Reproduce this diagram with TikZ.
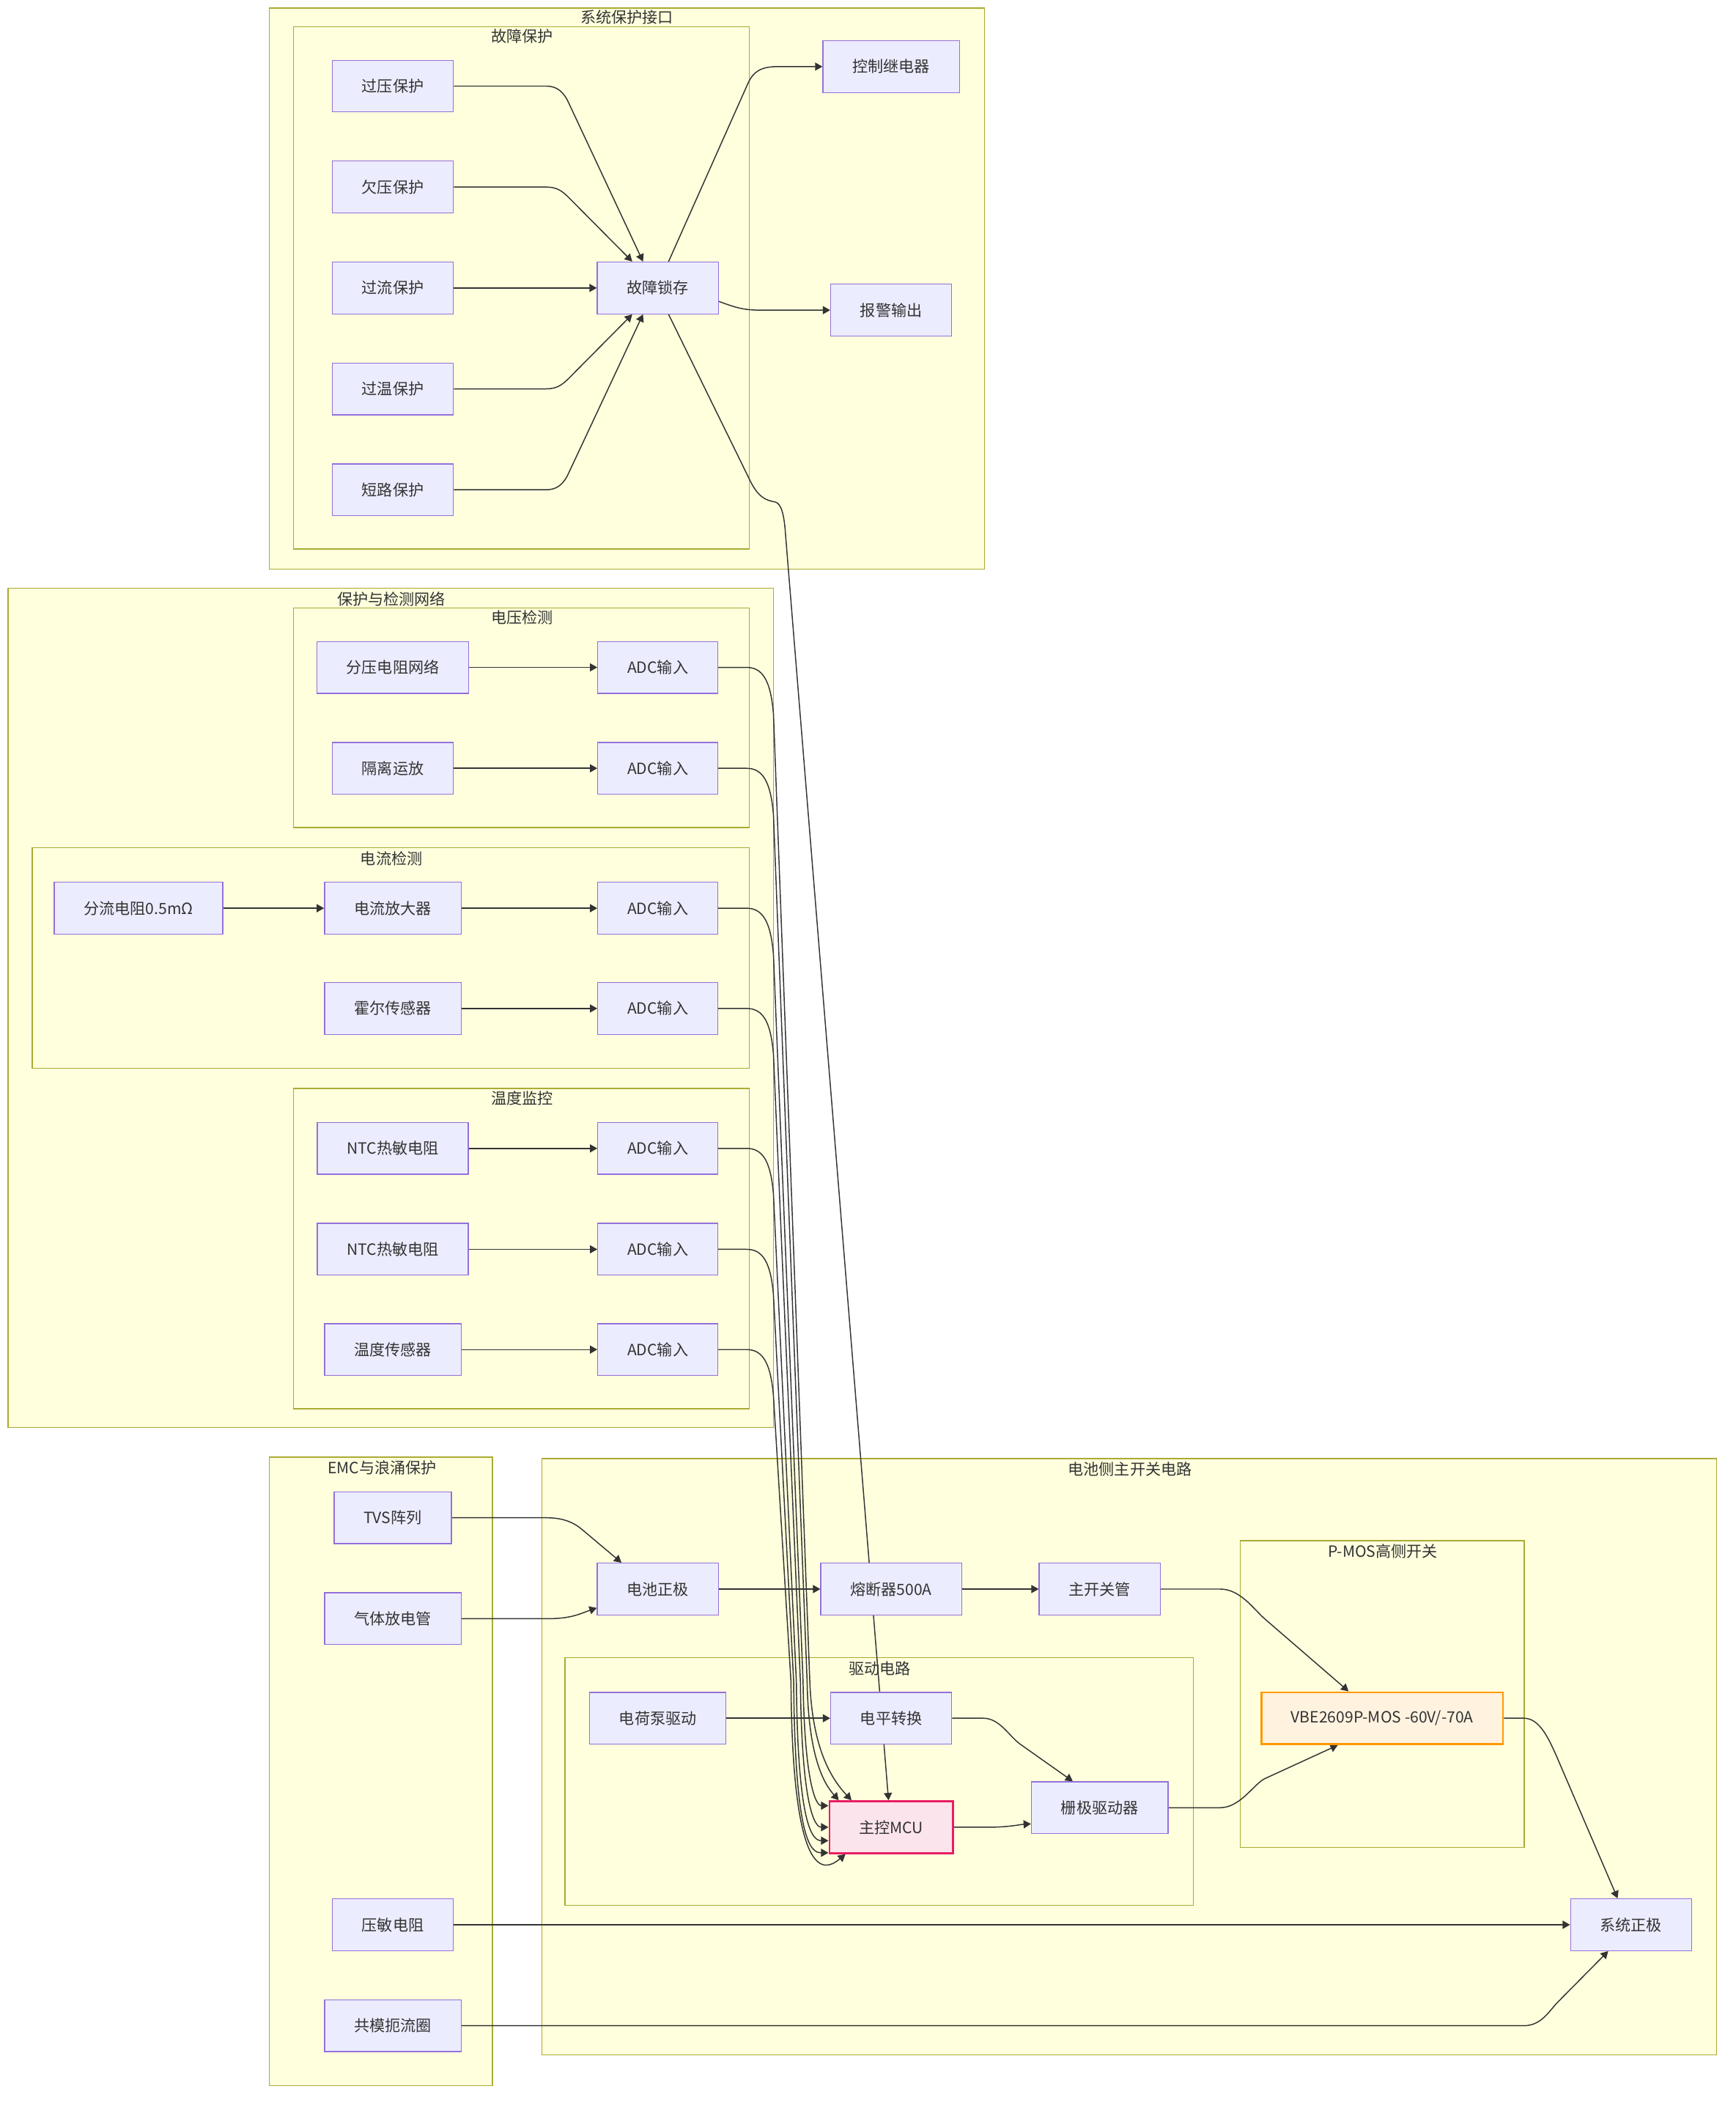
\documentclass[tikz,border=0pt]{standalone}
\usepackage{fontspec}
\setmainfont{Noto Sans CJK SC}
\usepackage{xcolor}
\usetikzlibrary{arrows.meta}
\definecolor{nodefill}{HTML}{ECECFF}
\definecolor{nodeline}{HTML}{9370DB}
\definecolor{clfill}{HTML}{FFFFDE}
\definecolor{clline}{HTML}{AAAA33}
\definecolor{edgecol}{HTML}{333333}
\definecolor{txt}{HTML}{333333}
\definecolor{mcufill}{HTML}{FCE4EC}
\definecolor{mculine}{HTML}{E91E63}
\definecolor{mosfill}{HTML}{FFF3E0}
\definecolor{mosline}{HTML}{FF9800}
\pgfdeclarelayer{bg}
\pgfdeclarelayer{edges}
\pgfsetlayers{bg,edges,main}

\begin{document}
\begin{tikzpicture}[x=1pt,y=-1pt,
  box/.style={draw=nodeline,fill=nodefill,line width=0.7pt,minimum height=38.5pt,inner xsep=22pt,inner ysep=0pt,text=txt,font=\fontsize{11.5}{13}\selectfont},
  mcubox/.style={box,draw=mculine,fill=mcufill,line width=1.5pt},
  mosbox/.style={box,draw=mosline,fill=mosfill,line width=1.5pt},
  cluster/.style={draw=clline,fill=clfill,line width=0.7pt},
  cltitle/.style={text=txt,font=\fontsize{11.5}{13}\selectfont,inner sep=0pt},
  edge/.style={draw=edgecol,line width=0.8pt,-{Triangle[length=5.5pt,width=6pt]}}]
\useasboundingbox (0,0) rectangle (1290,1566.7);

\node[box] (ovp) at (292,64) {过压保护};
\node[box] (uvp) at (292,139) {欠压保护};
\node[box] (ocp) at (292,214) {过流保护};
\node[box] (otp) at (292,289) {过温保护};
\node[box] (scp) at (292,364) {短路保护};
\node[box] (latch) at (489,214) {故障锁存};
\node[box] (relay) at (662.5,49.5) {控制继电器};
\node[box] (alarm) at (662.5,230.5) {报警输出};

\node[box] (divnet) at (292,496) {分压电阻网络};
\node[box] (adcva) at (489,496) {ADC输入};
\node[box] (isoamp) at (292,571) {隔离运放};
\node[box] (adcvb) at (489,571) {ADC输入};
\node[box] (shunt) at (103,675) {分流电阻0.5mΩ};
\node[box] (curamp) at (292,675) {电流放大器};
\node[box] (adcia) at (489,675) {ADC输入};
\node[box] (hall) at (292,749.5) {霍尔传感器};
\node[box] (adcib) at (489,749.5) {ADC输入};
\node[box] (ntca) at (292,853.5) {NTC热敏电阻};
\node[box] (adcta) at (489,853.5) {ADC输入};
\node[box] (ntcb) at (292,928.5) {NTC热敏电阻};
\node[box] (adctb) at (489,928.5) {ADC输入};
\node[box] (tsens) at (292,1003) {温度传感器};
\node[box] (adctc) at (489,1003) {ADC输入};

\node[box] (tvs) at (292,1128) {TVS阵列};
\node[box] (gdt) at (292,1203) {气体放电管};
\node[box] (mov) at (292,1430.5) {压敏电阻};
\node[box] (cmc) at (292,1505.5) {共模扼流圈};

\node[box] (batp) at (489,1181) {电池正极};
\node[box] (fuse) at (662.5,1181) {熔断器500A};
\node[box] (mainsw) at (817.5,1181) {主开关管};
\node[mosbox] (pmos) at (1027.5,1277) {VBE2609P-MOS -60V/-70A};
\node[box] (chgpump) at (489,1277) {电荷泵驱动};
\node[box] (lvlshift) at (662.5,1277) {电平转换};
\node[mcubox] (mcu) at (662.5,1358) {主控MCU};
\node[box] (gatedrv) at (817.5,1343.5) {栅极驱动器};
\node[box] (sysp) at (1212.5,1430.5) {系统正极};

\begin{pgfonlayer}{edges}
\draw[edge] (ovp.east) -- (406,64) .. controls (414,64) and (419,68) .. (423,77) -- ([xshift=-11pt]latch.north);
\draw[edge] (uvp.east) -- (406,139) .. controls (414,139) and (418,142) .. (423,147) -- ([xshift=-19pt]latch.north);
\draw[edge] (ocp.east) -- (latch.west);
\draw[edge] (otp.east) -- (406,289) .. controls (414,289) and (418,286) .. (423,281) -- ([xshift=-19pt]latch.south);
\draw[edge] (scp.east) -- (406,364) .. controls (414,364) and (419,360) .. (423,351) -- ([xshift=-11pt]latch.south);
\draw[edge] ([xshift=8pt]latch.north) -- (556,62) .. controls (560,53) and (566,49.5) .. (578,49.5) -- (relay.west);
\draw[edge] ([yshift=-10pt]latch.east) .. controls (548,229) and (553,230.5) .. (566,230.5) -- (alarm.west);
\draw[edge] ([xshift=8pt]latch.south) -- (558,358) .. controls (564,370) and (570,372) .. (576,373) .. controls (581,374) and (583,383) .. (584,398) -- ([xshift=-2pt]mcu.north);

\draw[edge] (divnet.east) -- (adcva.west);
\draw[edge] (isoamp.east) -- (adcvb.west);
\draw[edge] (shunt.east) -- (curamp.west);
\draw[edge] (curamp.east) -- (adcia.west);
\draw[edge] (hall.east) -- (adcib.west);
\draw[edge] (ntca.east) -- (adcta.west);
\draw[edge] (ntcb.east) -- (adctb.west);
\draw[edge] (tsens.east) -- (adctc.west);

\draw[edge] (adcva.east) -- (555,496) .. controls (567,496) and (573,506) .. (575,531) -- (602,1250) .. controls (604,1300) and (618,1322) .. ([xshift=-29.5pt]mcu.north);
\draw[edge] (adcvb.east) -- (555,571) .. controls (567,571) and (573,581) .. (575,606) -- (600,1250) .. controls (601,1305) and (612,1325) .. ([xshift=-39pt]mcu.north);
\draw[edge] (adcia.east) -- (555,675) .. controls (567,675) and (573,685) .. (575,710) -- (597,1250) .. controls (598,1322) and (606,1342) .. ([yshift=16pt]mcu.west);
\draw[edge] (adcib.east) -- (555,749.5) .. controls (567,749.5) and (573,759) .. (575,784) -- (595,1250) .. controls (596,1345) and (606,1358) .. (mcu.west);
\draw[edge] (adcta.east) -- (555,853.5) .. controls (567,853.5) and (573,863) .. (575,888) -- (592,1250) .. controls (593,1358) and (604,1368) .. ([yshift=-10pt]mcu.west);
\draw[edge] (adctb.east) -- (555,928.5) .. controls (567,928.5) and (573,938) .. (575,963) -- (590,1250) .. controls (591,1370) and (603,1377) .. ([yshift=-19pt]mcu.west);
\draw[edge] (adctc.east) -- (555,1003) .. controls (567,1003) and (573,1013) .. (575,1038) -- (588,1250) .. controls (589,1398) and (612,1392) .. ([xshift=-34pt]mcu.south);

\draw[edge] (tvs.east) -- (406,1128) .. controls (418,1128) and (426,1131) .. (433,1137) -- ([xshift=-27pt]batp.north);
\draw[edge] (gdt.east) -- (408,1203) .. controls (425,1203) and (432,1199) .. ([yshift=-14pt]batp.west);
\draw[edge] (batp.east) -- (fuse.west);
\draw[edge] (fuse.east) -- (mainsw.west);
\draw[edge] (mainsw.east) -- (907,1181) .. controls (922,1181) and (932,1196) .. (940,1203) -- ([xshift=-25pt]pmos.north);
\draw[edge] (chgpump.east) -- (lvlshift.west);
\draw[edge] (lvlshift.east) -- (731,1277) .. controls (743,1277) and (750,1290) .. (758,1296) -- ([xshift=-20pt]gatedrv.north);
\draw[edge] (mcu.east) -- (735,1358) .. controls (750,1358) and (758,1356) .. ([yshift=-12pt]gatedrv.west);
\draw[edge] (gatedrv.east) -- (907,1343.5) .. controls (922,1343.5) and (932,1326) .. (940,1322) -- ([xshift=-33pt]pmos.south);
\draw[edge] (pmos.east) -- (1133,1277) .. controls (1145,1277) and (1152,1294) .. (1157,1305) -- ([xshift=-10pt]sysp.north);
\draw[edge] (mov.east) -- (sysp.west);
\draw[edge] (cmc.east) -- (1133,1505.5) .. controls (1146,1505.5) and (1152,1494) .. (1158,1488) -- ([xshift=-17pt]sysp.south);
\end{pgfonlayer}

\begin{pgfonlayer}{bg}
\draw[cluster] (200,6) rectangle (732,423);
\node[cltitle] (t-sysif) at (466,13) {系统保护接口};
\draw[cluster] (218,20) rectangle (557,408);
\node[cltitle] (t-fault) at (388,27) {故障保护};
\draw[cluster] (6,437) rectangle (575,1061);
\node[cltitle] (t-protdet) at (291,445) {保护与检测网络};
\draw[cluster] (218,452) rectangle (557,615);
\node[cltitle] (t-volt) at (388,459) {电压检测};
\draw[cluster] (24,630) rectangle (557,794);
\node[cltitle] (t-cur) at (291,638) {电流检测};
\draw[cluster] (218,809) rectangle (557,1047);
\node[cltitle] (t-temp) at (388,816) {温度监控};
\draw[cluster] (200,1083) rectangle (366,1550);
\node[cltitle] (t-emc) at (284,1091) {EMC与浪涌保护};
\draw[cluster] (403,1084) rectangle (1276,1527);
\node[cltitle] (t-main) at (840,1092) {电池侧主开关电路};
\draw[cluster] (922,1145) rectangle (1133,1373);
\node[cltitle] (t-pmos) at (1028,1153) {P-MOS高侧开关};
\draw[cluster] (420,1232) rectangle (887,1416);
\node[cltitle] (t-drive) at (654,1240) {驱动电路};
\end{pgfonlayer}
\end{tikzpicture}
\end{document}
